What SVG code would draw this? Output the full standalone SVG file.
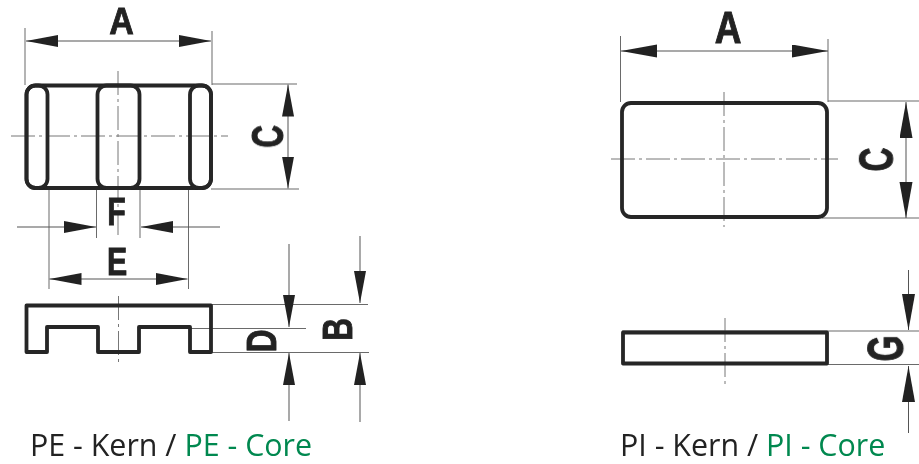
<svg xmlns="http://www.w3.org/2000/svg" width="919" height="464" viewBox="0 0 919 464">
<style>
.o{fill:none;stroke:#252525;stroke-width:3.8;stroke-linejoin:round}
.t{fill:none;stroke:#6a6a6a;stroke-width:1}
.c{fill:none;stroke:#777;stroke-width:1;stroke-dasharray:24 4 3 4}
.d{fill:none;stroke:#555;stroke-width:1}
.l{font-family:"Liberation Sans",Arial,sans-serif;font-weight:700;font-size:37px;fill:#222;stroke:#222;stroke-width:.8;text-anchor:middle}
.k{font-family:"Open Sans","Noto Sans",sans-serif;font-size:30.400px;fill:#222}
.g{fill:#00884f}
</style>
<defs>
<marker id="a" markerUnits="userSpaceOnUse" markerWidth="34" markerHeight="14" refX="32" refY="6" orient="auto"><path d="M0 0L32 6L0 12Z" fill="#222"/></marker>
<marker id="b" markerUnits="userSpaceOnUse" markerWidth="38" markerHeight="14" refX="36" refY="6.5" orient="auto"><path d="M0 0L36 6.500L0 13Z" fill="#222"/></marker>
<filter id="s" x="0" y="0" width="100%" height="100%" filterUnits="userSpaceOnUse"><feGaussianBlur stdDeviation=".3"/></filter>
</defs>
<rect width="919" height="464" fill="#fff"/>
<g id="connectors" filter="url(#s)">
<path class="t" d="M25 28V85M212 31V85M212 84H297M211 189H299M49 188V289M96.500 188V238M140 188V238M188.500 188V289M212 304.500H368M212 352.500H369M190 328.500H306M622 331H919M622 364.500H919M620.500 36V102M828 39V102M828 101H919M822 218H919"/>
<path class="c" d="M118 71V238M11 136H228M118.500 296V362M611 159H838M724 92V227M725 318V384"/>
<path class="d" marker-end="url(#a)" d="M118 41H26"/>
<path class="d" marker-end="url(#a)" d="M118 41H211"/>
<path class="d" marker-end="url(#a)" d="M288 136V84.500"/>
<path class="d" marker-end="url(#a)" d="M288 136V188.500"/>
<path class="d" marker-end="url(#a)" d="M17 227H96"/>
<path class="d" marker-end="url(#a)" d="M220 227H141"/>
<path class="d" marker-end="url(#a)" d="M118 279H49.500"/>
<path class="d" marker-end="url(#a)" d="M118 279H187.500"/>
<path class="d" marker-end="url(#a)" d="M289 244V327"/>
<path class="d" marker-end="url(#a)" d="M289 421V353"/>
<path class="d" marker-end="url(#a)" d="M360 236V303"/>
<path class="d" marker-end="url(#a)" d="M360 422V353"/>
<path class="d" marker-end="url(#b)" d="M724 51H621"/>
<path class="d" marker-end="url(#b)" d="M724 51H828"/>
<path class="d" marker-end="url(#b)" d="M906 160V102"/>
<path class="d" marker-end="url(#b)" d="M906 160V218"/>
<path class="d" marker-end="url(#b)" d="M908.500 270V330"/>
<path class="d" marker-end="url(#b)" d="M908.500 433V366"/>
</g>
<g id="pe-top" filter="url(#s)">
<rect class="o" x="26.500" y="85.500" width="184.500" height="102.500" rx="9"/>
<rect class="o" x="26.500" y="85.500" width="21" height="102.500" rx="9"/>
<rect class="o" x="97.500" y="85.500" width="42" height="102.500" rx="9"/>
<rect class="o" x="190" y="85.500" width="21" height="102.500" rx="9"/>
</g>
<g id="pe-side" filter="url(#s)"><path class="o" d="M26.500 305.500H211V352H190V327H139V352H98V327H47V352H26.500Z"/></g>
<g id="pi-top" filter="url(#s)"><rect class="o" x="622" y="103" width="205" height="114" rx="9"/></g>
<g id="pi-side" filter="url(#s)"><rect class="o" x="623" y="332.500" width="204" height="31"/></g>
<g id="labels" filter="url(#s)">
<text class="l" transform="translate(121.500,34) scale(.92,1)">A</text>
<text class="l" transform="translate(283,136.500) rotate(-90) scale(.85,1.2)">C</text>
<text class="l" transform="translate(116.500,225) scale(.82,1.05)">F</text>
<text class="l" transform="translate(117,275) scale(.82,1.05)">E</text>
<text class="l" transform="translate(276,341) rotate(-90) scale(.85,1.15)">D</text>
<text class="l" transform="translate(352,329.500) rotate(-90) scale(.85,1.15)">B</text>
<text class="l" transform="translate(728,43) scale(1,1.2)">A</text>
<text class="l" transform="translate(893,159.500) rotate(-90) scale(.9,1.3)">C</text>
<text class="l" transform="translate(903,348.500) rotate(-90) scale(.9,1.35)">G</text>
<text class="k" x="30" y="456">PE - Kern / <tspan class="g">PE - Core</tspan></text>
<text class="k" x="620" y="456">PI - Kern / <tspan class="g">PI - Core</tspan></text>
</g>
</svg>
